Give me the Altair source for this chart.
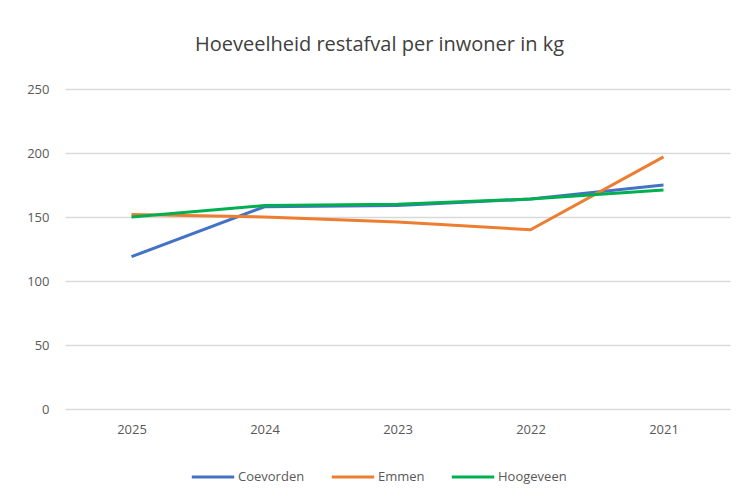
import altair as alt
import pandas as pd

years = ["2025", "2024", "2023", "2022", "2021"]
coevorden = [119, 158, 159, 164, 175]
emmen = [152, 150, 146, 140, 197]
hoogeveen = [150, 159, 160, 164, 171]

series = ["Coevorden", "Emmen", "Hoogeveen"]
colors = ["#4472C4", "#ED7D31", "#00B050"]

rows = []
for name, vals in zip(series, [coevorden, emmen, hoogeveen]):
    for y, v in zip(years, vals):
        rows.append({"jaar": y, "gemeente": name, "kg": v})
df = pd.DataFrame(rows)

chart = alt.Chart(df).mark_line(strokeWidth=3).encode(
    x=alt.X("jaar:O", sort=years, title=None,
            scale=alt.Scale(type="point", padding=0.5),
            axis=alt.Axis(labelAngle=0, domain=False, ticks=False, labelPadding=14,
                          labelFontSize=13, labelColor="#595959", labelFont="Open Sans")),
    y=alt.Y("kg:Q", title=None, scale=alt.Scale(domain=[0, 250]),
            axis=alt.Axis(values=[0, 50, 100, 150, 200, 250], domain=False, ticks=False,
                          labelPadding=16, labelFontSize=13, labelColor="#595959",
                          labelFont="Open Sans", gridColor="#D9D9D9", gridWidth=1.5)),
    color=alt.Color("gemeente:N", scale=alt.Scale(domain=series, range=colors),
                    legend=alt.Legend(orient="none", direction="horizontal", title=None,
                                      legendX=125, legendY=365, symbolType="stroke",
                                      symbolStrokeWidth=3, symbolSize=1800, labelFontSize=13,
                                      labelColor="#595959", labelFont="Open Sans",
                                      columnPadding=20, labelOffset=2)),
).properties(
    width=665, height=320,
    padding={"left": 57, "top": 81, "right": 7, "bottom": 80},
    autosize=alt.AutoSizeParams(type="none"),
    title=alt.TitleParams("Hoeveelheid restafval per inwoner in kg", fontSize=20,
                          font="Open Sans", fontWeight="normal", color="#404040",
                          offset=28, dx=-18, anchor="middle"),
).configure_view(stroke=None)

chart.save("out.html", embed_options={"renderer": "svg", "actions": False})
